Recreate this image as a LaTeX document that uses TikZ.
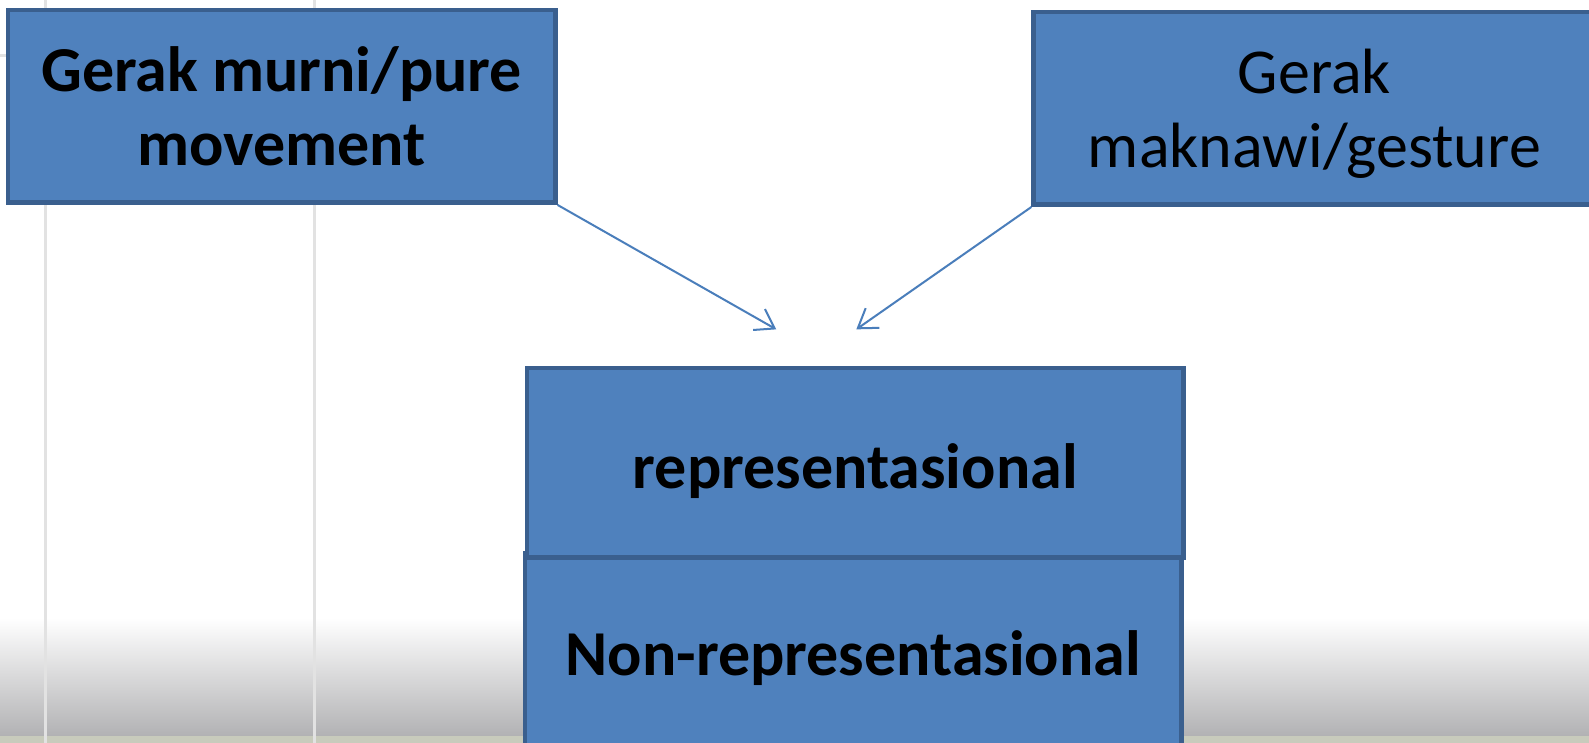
\documentclass[tikz,border=0pt]{standalone}
\usepackage{fontspec}
\setmainfont{Carlito}
\usetikzlibrary{arrows.meta}
\definecolor{boxfill}{HTML}{4F81BD}
\definecolor{boxline}{HTML}{3A5F8E}
\definecolor{arrcol}{HTML}{4A7EBB}
\definecolor{gridgray}{HTML}{E2E2E2}
\definecolor{shadebot}{RGB}{178,178,180}
\definecolor{stripcol}{RGB}{200,203,188}
\def\u{0.5067pt}
\begin{document}
\begin{tikzpicture}[x=0.5067pt,y=-0.5067pt,
  blockbox/.style={draw=boxline,fill=boxfill,line width=2.3pt,rectangle,inner sep=0pt,align=center,text=black},
  boldtext/.style={font=\fontsize{32}{37}\selectfont\bfseries},
  plaintext/.style={font=\fontsize{32}{37}\selectfont},
  arr/.style={draw=arrcol,line width=1pt,-{Straight Barb[length=9pt,width=12pt,line width=1pt]}}]
\clip (0,0) rectangle (1568,733);
\fill[white] (0,0) rectangle (1568,733);
\shade[top color=white,bottom color=shadebot] (0,610) rectangle (1568,726);
\fill[stripcol] (0,726) rectangle (1568,733);
\draw[gridgray,line width=1.5pt] (45,0) -- (45,733);
\draw[gridgray,line width=1.5pt] (310,0) -- (310,733);
\draw[gridgray,line width=1.5pt] (0,55) -- (8,55);
\node[blockbox,boldtext,minimum width=540*\u,minimum height=190*\u] (b1) at (278,105) {Gerak murni/pure\\movement};
\node[blockbox,plaintext,minimum width=554*\u,minimum height=190*\u,text depth=0pt] (b2) at (1297,107) {Gerak\\maknawi/gesture};
\node[blockbox,boldtext,minimum width=648*\u,minimum height=206*\u] (b4) at (842,649) {Non-representasional};
\node[blockbox,boldtext,minimum width=648*\u,minimum height=187*\u,text height=32pt,text depth=6.4pt] (b3) at (844,456.5) {representasional};
\coordinate (t1) at (766,325);
\coordinate (t2) at (845,325);
\draw[arr] (b1.south east) -- (t1);
\draw[arr] (b2.south west) -- (t2);
\end{tikzpicture}
\end{document}
